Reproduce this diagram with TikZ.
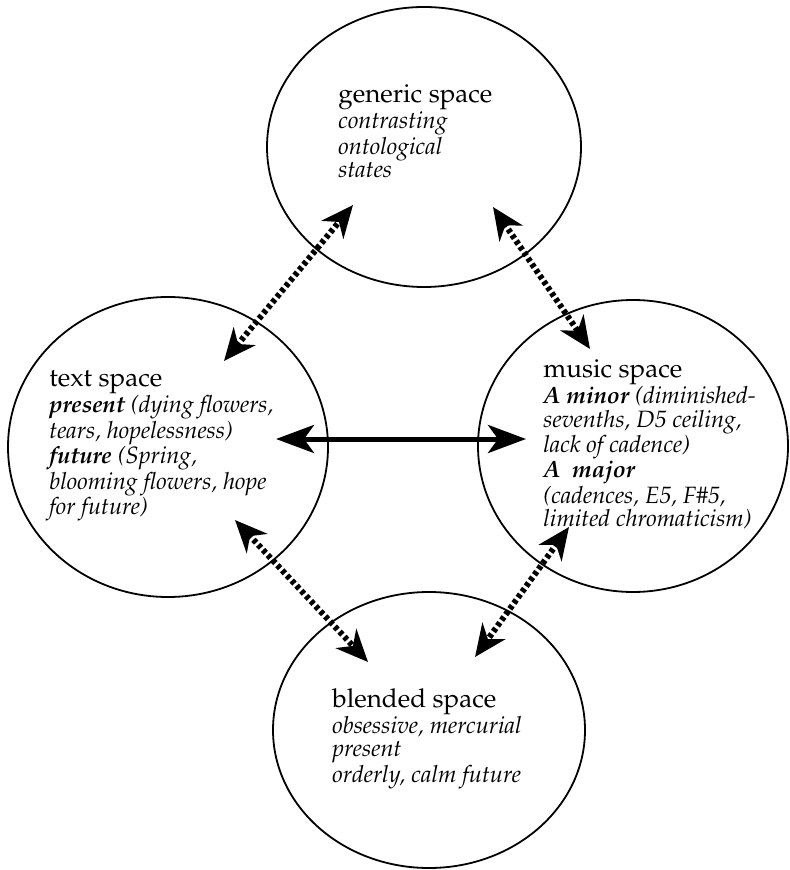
\documentclass[tikz,border=0pt]{standalone}
\usepackage[T1]{fontenc}
\usepackage{mathpazo}
\usetikzlibrary{arrows.meta,positioning,shapes.geometric}
\newcommand{\spname}[1]{{\upshape\fontsize{13}{11.6}\selectfont #1}}
\tikzset{
  spacecirc/.style={draw=black,ellipse,line width=0.9pt,inner sep=0pt},
  spacetext/.style={anchor=north west,align=left,inner sep=0pt,
    font=\fontsize{11.8}{11.6}\selectfont\itshape},
  linkarrow/.style={{Stealth[length=19pt,width=14pt,inset=5pt]}-{Stealth[length=19pt,width=14pt,inset=5pt]},
    line width=2.5pt},
  dotarrow/.style={{Stealth[length=16pt,width=14pt,inset=5pt]}-{Stealth[length=16pt,width=14pt,inset=5pt]},
    line width=3pt,dash pattern=on 2pt off 1.5pt}
}
\begin{document}
\begin{tikzpicture}[x=0.5pt,y=-0.5pt]
  \useasboundingbox (0,0) rectangle (789,870);
  \node[spacecirc,minimum width=157pt,minimum height=140pt] (generic) at (424,147) {};
  \node[spacecirc,minimum width=160pt,minimum height=150pt] (textsp) at (168,447) {};
  \node[spacecirc,minimum width=155pt,minimum height=146pt] (music) at (633,446) {};
  \node[spacecirc,minimum width=156pt,minimum height=138pt] (blended) at (429,730) {};
  \node[spacetext] (generictxt) at (338,84) {\spname{generic space}\\contrasting\\ontological\\states};
  \node[spacetext] (texttxt) at (49,370) {\spname{text space}\\\textbf{present} (dying flowers,\\tears, hopelessness)\\
    \textbf{future} (Spring,\\blooming flowers, hope\\for future)};
  \node[spacetext] (musictxt) at (543,359) {\spname{music space}\\\textbf{A minor} (diminished-\\sevenths, D5 ceiling,\\
    lack of cadence)\\\textbf{A\ \ major}\\(cadences, E5, F\#5,\\limited chromaticism)};
  \node[spacetext] (blendedtxt) at (332,688) {\spname{blended space}\\obsessive, mercurial\\present\\orderly, calm future};
  \coordinate (ulA) at (224,361);
  \coordinate (ulB) at (353,205);
  \coordinate (urA) at (493,207);
  \coordinate (urB) at (590,349);
  \coordinate (llA) at (235,520);
  \coordinate (llB) at (368,662);
  \coordinate (lrA) at (569,527);
  \coordinate (lrB) at (475,657);
  \coordinate (hA) at (276,439);
  \coordinate (hB) at (526,439);
  \draw[dotarrow] (ulA)--(ulB);
  \draw[dotarrow] (urA)--(urB);
  \draw[dotarrow] (llA)--(llB);
  \draw[dotarrow] (lrA)--(lrB);
  \draw[linkarrow] (hA)--(hB);
\end{tikzpicture}
\end{document}
